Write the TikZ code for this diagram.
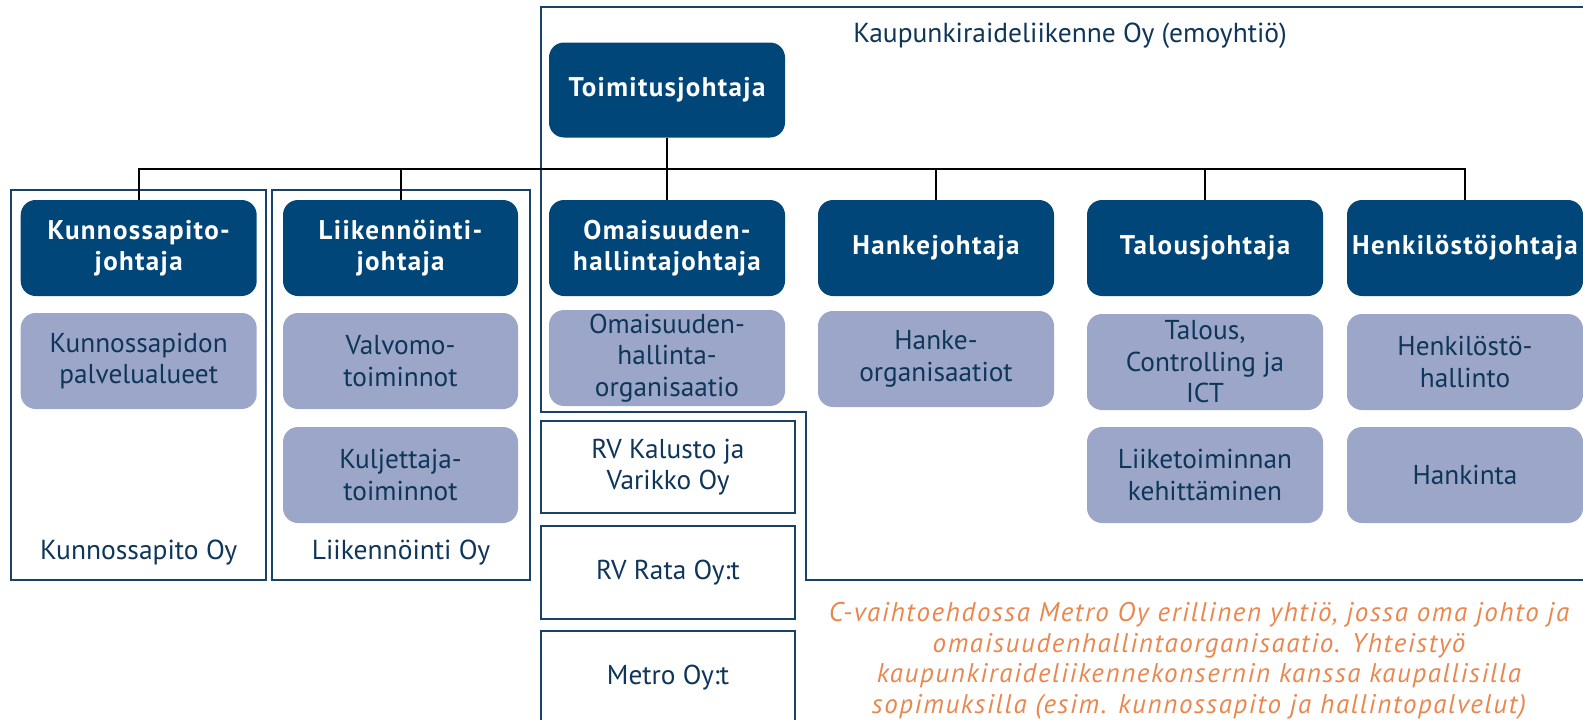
\documentclass[tikz,border=0pt]{standalone}
\usepackage{fontspec}
\setmainfont{PT Sans}
\newfontfamily\titlefont[LetterSpace=5]{PT Sans}
\newfontfamily\notefont[LetterSpace=6]{PT Sans}
\definecolor{darkbox}{RGB}{0,70,121}
\definecolor{lightbox}{RGB}{156,166,200}
\definecolor{navytext}{RGB}{14,54,90}
\definecolor{frameblue}{RGB}{24,66,104}
\definecolor{noteorange}{RGB}{234,135,78}
\tikzset{
  darkstyle/.style={draw=none, fill=darkbox, rounded corners=15pt, minimum width=236pt, minimum height=96pt,
     text=white, font=\titlefont\fontsize{27}{31.5}\selectfont\bfseries, align=center, inner sep=0pt},
  lightstyle/.style={draw=none, fill=lightbox, rounded corners=15pt, minimum width=236pt, minimum height=96pt,
     text=navytext, font=\fontsize{27.3}{31.5}\selectfont, align=center, inner sep=0pt},
  whitestyle/.style={draw=frameblue, line width=1.6pt, fill=white, minimum width=254pt,
     text=navytext, font=\fontsize{27.3}{31.5}\selectfont, align=center, inner sep=0pt},
  framestyle/.style={draw=frameblue, line width=1.6pt},
  conn/.style={draw=black, line width=2pt},
  framelabel/.style={text=navytext, font=\fontsize{27.5}{31}\selectfont, inner sep=0pt},
  note/.style={text=noteorange, font=\notefont\fontsize{27}{30.5}\selectfont\itshape, align=center, inner sep=0pt}
}
\begin{document}
\begin{tikzpicture}[x=1pt,y=-1pt]
\useasboundingbox (0,0) rectangle (1583,720);
\clip (0,0) rectangle (1583,720);
% frames
\draw[framestyle] (11,190) rectangle (266,580);
\draw[framestyle] (272,190) rectangle (530,580);
\draw[framestyle] (1600,7) -- (541,7) -- (541,412) -- (806,412) -- (806,580) -- (1600,580);
\node[framelabel] (kylabel) at (138.7,553) {Kunnossapito Oy};
\node[framelabel] (lylabel) at (401,553) {Liikennöinti Oy};
\node[framelabel] (emolabel) at (1070,36) {Kaupunkiraideliikenne Oy (emoyhtiö)};
% top
\node[darkstyle, minimum height=95pt] (toim) at (667,90) {Toimitusjohtaja};
% dark row
\node[darkstyle] (kj) at (138.7,248) {Kunnossapito-\\johtaja};
\node[darkstyle, minimum width=235pt] (lj) at (400.5,248) {Liikennöinti-\\johtaja};
\node[darkstyle] (oj) at (667,248) {Omaisuuden-\\hallintajohtaja};
\node[darkstyle] (hj) at (936,248) {Hankejohtaja};
\node[darkstyle] (tj) at (1205,248) {Talousjohtaja};
\node[darkstyle] (pj) at (1465,248) {Henkilöstöjohtaja};
% light row 1
\node[lightstyle] (kp) at (138.7,361) {Kunnossapidon\\palvelualueet};
\node[lightstyle, minimum width=235pt] (vt) at (400.5,361) {Valvomo-\\toiminnot};
\node[lightstyle] (oo) at (667,358) {Omaisuuden-\\hallinta-\\organisaatio};
\node[lightstyle] (ho) at (936,359) {Hanke-\\organisaatiot};
\node[lightstyle] (tc) at (1205,362) {Talous,\\Controlling ja\\ICT};
\node[lightstyle] (hh) at (1465,362) {Henkilöstö-\\hallinto};
% light row 2
\node[lightstyle, minimum width=235pt] (kt) at (400.5,475) {Kuljettaja-\\toiminnot};
\node[lightstyle] (lk) at (1205,475) {Liiketoiminnan\\kehittäminen};
\node[lightstyle] (hk) at (1465,475) {Hankinta};
% white boxes
\node[whitestyle, minimum height=92pt] (rvk) at (668,467) {RV Kalusto ja\\Varikko Oy};
\node[whitestyle, minimum height=93pt] (rvr) at (668,572.5) {RV Rata Oy:t};
\node[whitestyle, minimum height=94pt] (met) at (668,678) {Metro Oy:t};
% connectors
\coordinate (bus) at (0,168.5);
\draw[conn] (kj.north) -- (kj.north |- bus) -- (pj.north |- bus) -- (pj.north);
\draw[conn] (toim.south) -- (oj.north);
\draw[conn] (lj.north) -- (lj.north |- bus);
\draw[conn] (hj.north) -- (hj.north |- bus);
\draw[conn] (tj.north) -- (tj.north |- bus);
% note
\node[note] (noteText) at (1199,661) {C-vaihtoehdossa Metro Oy erillinen yhtiö, jossa oma johto ja\\omaisuudenhallintaorganisaatio. Yhteistyö\\kaupunkiraideliikennekonsernin kanssa kaupallisilla\\sopimuksilla (esim. kunnossapito ja hallintopalvelut)};
\end{tikzpicture}
\end{document}
